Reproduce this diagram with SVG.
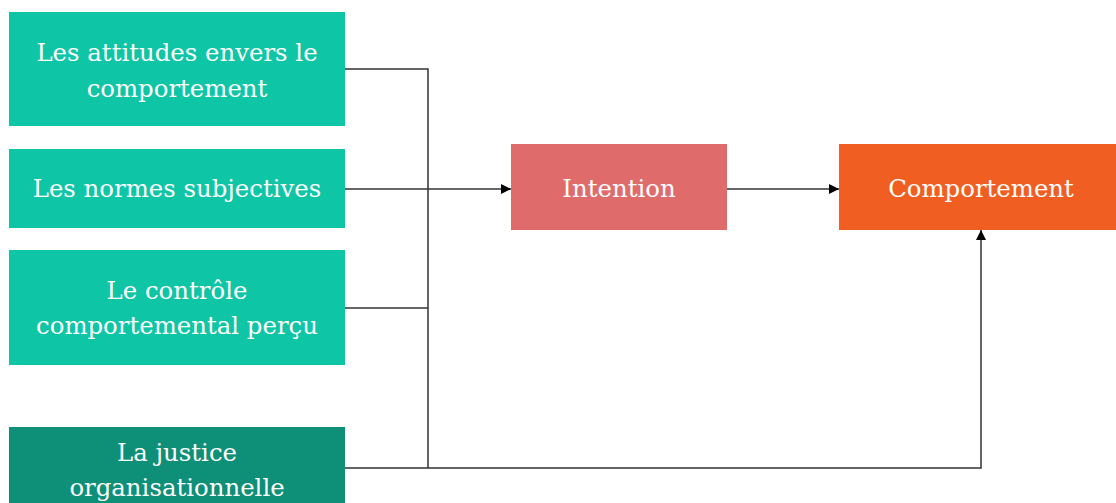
<svg xmlns="http://www.w3.org/2000/svg" width="1116" height="503" viewBox="0 0 1116 503">
  <defs>
    <marker id="arrow" viewBox="0 0 10 10" refX="10" refY="5" markerWidth="10" markerHeight="10" markerUnits="userSpaceOnUse" orient="auto">
      <path d="M0,0 L10,5 L0,10 z" fill="#000"/>
    </marker>
    <style>
      .lbl { font-family: "DejaVu Serif", "Liberation Serif", serif; font-size: 24.4px; fill: #ffffff; text-anchor: middle; }
      .edge { fill: none; stroke: #333; stroke-width: 1.5; }
    </style>
  </defs>
  <rect width="1116" height="503" fill="#ffffff"/>

  <g id="connectors">
    <polyline class="edge" points="345,69 428,69 428,468"/>
    <polyline class="edge" points="345,308 428,308"/>
    <line class="edge" x1="345" y1="189" x2="511" y2="189" marker-end="url(#arrow)"/>
    <line class="edge" x1="727" y1="189" x2="839" y2="189" marker-end="url(#arrow)"/>
    <polyline class="edge" points="345,468 981,468 981,230" marker-end="url(#arrow)"/>
  </g>

  <g id="attitudes">
    <rect x="9" y="12" width="336" height="114" fill="#0EC5A6"/>
    <text class="lbl" x="177" y="61">Les attitudes envers le</text>
    <text class="lbl" x="177" y="97">comportement</text>
  </g>
  <g id="normes">
    <rect x="9" y="149" width="336" height="79" fill="#0EC5A6"/>
    <text class="lbl" x="177" y="197">Les normes subjectives</text>
  </g>
  <g id="controle">
    <rect x="9" y="250" width="336" height="115" fill="#0EC5A6"/>
    <text class="lbl" x="177" y="299">Le contrôle</text>
    <text class="lbl" x="177" y="334">comportemental perçu</text>
  </g>
  <g id="justice">
    <rect x="9" y="427" width="336" height="80" fill="#0E8F77"/>
    <text class="lbl" x="177" y="461">La justice</text>
    <text class="lbl" x="177" y="496">organisationnelle</text>
  </g>
  <g id="intention">
    <rect x="511" y="144" width="216" height="86" fill="#E06B6B"/>
    <text class="lbl" x="619" y="197">Intention</text>
  </g>
  <g id="comportement">
    <rect x="839" y="144" width="277" height="86" fill="#F15E22"/>
    <text class="lbl" x="981" y="197">Comportement</text>
  </g>
</svg>
